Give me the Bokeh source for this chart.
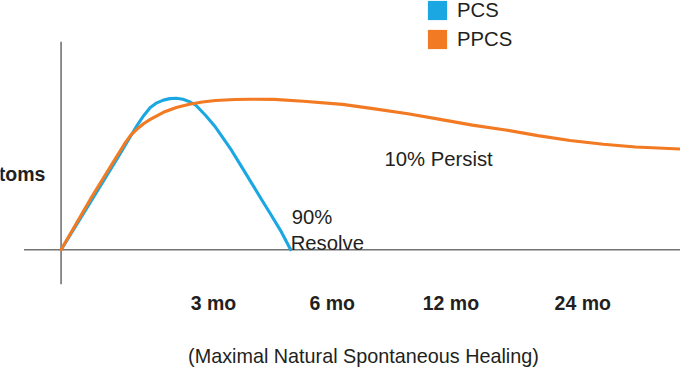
from bokeh.plotting import figure
from bokeh.models import Range1d, ColumnDataSource, Legend, LegendItem
from bokeh.core.properties import value
from bokeh.embed import file_html
from bokeh.resources import INLINE

nan = float("nan")

# ---- data (arbitrary time units, symptom level: peak = 100) ----
pcs_t = [0, 3.1, 5.8, 7.1, 7.8, 8.47, 9.13, 9.8, 10.47, 11.13, 11.8, 12.47, 13.13, 13.8,
         14.8, 15.8, 16.8, 17.47, 18.47, 19.47, 20.47, 21.47, 22.47, 23.5]
pcs_y = [0, 32.5, 61.1, 75.2, 82.8, 89.2, 94.5, 97.6, 99.4, 100.4, 100.6, 100.0, 98.4, 96.0,
         89.2, 81.5, 72.2, 65.8, 55.2, 44.6, 33.9, 23.4, 12.7, 0]

ppcs_t = [0, 3.13, 5.8, 6.47, 7.13, 7.8, 8.47, 9.13, 10.47, 11.8, 13.13, 14.47, 15.8, 17.8,
          19.47, 21.8, 24.8, 28.8, 32.1, 35.5, 38.8, 42.1, 45.5, 48.8, 52.1, 55.5, 58.8, 63.4]
ppcs_y = [0, 35.0, 63.1, 70.1, 76.1, 80.3, 83.9, 86.6, 91.3, 94.5, 96.6, 98.1, 99.2, 99.8,
          100.0, 99.9, 98.7, 96.6, 93.6, 90.4, 86.6, 82.8, 79.6, 75.8, 72.6, 70.1, 68.2, 66.9]

tick_pos = [15.6, 27.75, 39.9, 53.4]
tick_labels = ["3 mo", "6 mo", "12 mo", "24 mo"]

series_names = ["PCS", "PPCS"]
BLUE = "#1ba7e1"
ORANGE = "#f27a22"
TEXT = "#231f20"
AXIS = "#737373"
FONT = "Liberation Sans"

p = figure(width=680, height=369, output_backend="svg", toolbar_location=None,
           x_axis_type=None, y_axis_type=None, min_border=0,
           x_range=Range1d(-6.2, 63.4), y_range=Range1d(-79.62, 165.61),
           background_fill_color="white", border_fill_color="white")
p.outline_line_color = None
p.xgrid.visible = False
p.ygrid.visible = False

# axes lines
p.segment(x0=[0], y0=[-22.9], x1=[0], y1=[138.2], line_color=AXIS, line_width=1.6)
p.segment(x0=[-3.8], y0=[0], x1=[64], y1=[0], line_color=AXIS, line_width=1.6)

# curves
p.line(pcs_t, pcs_y, line_color=BLUE, line_width=3.1, line_join="round", line_cap="round")
p.line(ppcs_t, ppcs_y, line_color=ORANGE, line_width=3.1, line_join="round", line_cap="round")

# tick labels
tsrc = ColumnDataSource(dict(x=tick_pos, y=[-35.4] * len(tick_pos), t=tick_labels))
p.text(x="x", y="y", text="t", source=tsrc, text_align="center", text_baseline="middle",
       text_font=value(FONT), text_font_style="bold", text_font_size="19.5px", text_color=TEXT)

# axis titles
p.text(x=[13.0], y=[-70.7], text=["(Maximal Natural Spontaneous Healing)"],
       text_align="left", text_baseline="middle", text_font=value(FONT),
       text_font_size="19.8px", text_color=TEXT)
p.text(x=[-1.6], y=[50.4], text=["toms"], text_align="right", text_baseline="middle",
       text_font=value(FONT), text_font_style="bold", text_font_size="19.5px", text_color=TEXT)

# annotations
p.text(x=[23.6, 23.5, 33.1], y=[22.0, 4.6, 60.5], text=["90%", "Resolve", "10% Persist"],
       text_align="left", text_baseline="middle", text_font=value(FONT),
       text_font_size="20.3px", text_color=TEXT)

# legend with square swatches (renderers hold no visible marks)
r1 = p.quad(left=[nan], right=[nan], top=[nan], bottom=[nan], fill_color=BLUE, line_color=None)
r2 = p.quad(left=[nan], right=[nan], top=[nan], bottom=[nan], fill_color=ORANGE, line_color=None)
legend = Legend(items=[LegendItem(label=series_names[0], renderers=[r1]),
                       LegendItem(label=series_names[1], renderers=[r2])],
                location=(425, 318), glyph_width=24, glyph_height=24, spacing=5,
                padding=0, margin=0, label_standoff=8, border_line_color=None,
                background_fill_alpha=0, label_text_font=FONT, label_text_font_size="20.3px",
                label_text_color=TEXT, label_height=24)
p.add_layout(legend, "center")

open("out.html", "w").write(file_html(p, INLINE))
